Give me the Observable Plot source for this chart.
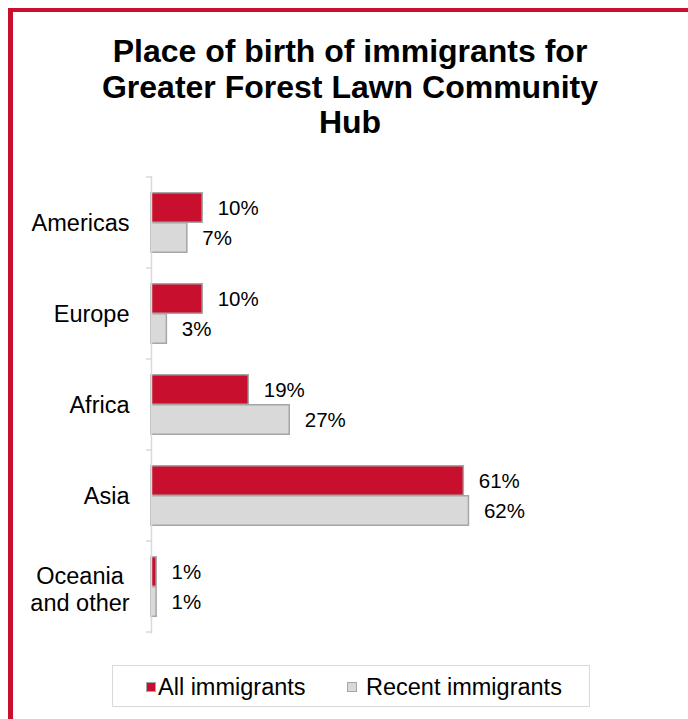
<!DOCTYPE html>
<html><head><meta charset="utf-8">
<script src="https://cdn.jsdelivr.net/npm/d3@7"></script>
<script src="https://cdn.jsdelivr.net/npm/@observablehq/plot@0.6"></script>
<style>
body{margin:0;background:#fff;font-family:"Liberation Sans",Arial,sans-serif;width:688px;height:719px;overflow:hidden;position:relative;}
#frame{position:absolute;left:8px;top:8px;width:720px;height:730px;border-left:5px solid #c8102e;border-top:4px solid #c8102e;box-sizing:border-box;}
#title{position:absolute;left:0;top:34px;width:700px;text-align:center;font-weight:bold;font-size:32px;line-height:35.5px;color:#000;}
#chart{position:absolute;left:0;top:170px;}
#legend{position:absolute;left:112px;top:665px;width:476px;height:40px;border:1px solid #d9d9d9;}
.sw{position:absolute;width:8px;height:8px;border:1px solid #a6a6a6;top:16px;}
.lt{position:absolute;top:8px;font-size:23.5px;line-height:26px;color:#000;white-space:nowrap;}
</style></head>
<body>
<div id="frame"></div>
<div id="title">Place of birth of immigrants for<br>Greater Forest Lawn Community<br>Hub</div>
<div id="chart"></div>
<div id="legend"></div>
<script>
const categories = ["Americas", "Europe", "Africa", "Asia", "Oceania\nand other"];
const seriesNames = ["All immigrants", "Recent immigrants"];
const allImmigrants = [10, 10, 19, 61, 1];
const recentImmigrants = [7, 3, 27, 62, 1];
const seriesColors = ["#c8102e", "#d9d9d9"];

const rows = [];
categories.forEach((c, i) => {
  rows.push({cat: c, series: seriesNames[0], value: allImmigrants[i]});
  rows.push({cat: c, series: seriesNames[1], value: recentImmigrants[i]});
});

const H = 470, MT = 6, MB = 6.5;
const step = (H - MT - MB) / categories.length;
const barH = 30;
const pad = (step - 2 * barH) / 2;

const chart = Plot.plot({
  width: 688, height: H,
  marginLeft: 151, marginRight: 25, marginTop: MT, marginBottom: MB,
  style: {fontFamily: "'Liberation Sans', Arial, sans-serif", background: "transparent", overflow: "visible"},
  x: {domain: [0, 100], axis: null},
  y: {domain: categories, padding: 0, axis: null, label: null},
  color: {domain: seriesNames, range: seriesColors},
  marks: [
    Plot.barX(rows.filter(d => d.series === seriesNames[0]), {
      x: "value", y: "cat", fill: "series", stroke: "#a6a6a6", strokeWidth: 1.5,
      insetTop: pad, insetBottom: step - pad - barH
    }),
    Plot.barX(rows.filter(d => d.series === seriesNames[1]), {
      x: "value", y: "cat", fill: "series", stroke: "#a6a6a6", strokeWidth: 1.5,
      insetTop: pad + barH, insetBottom: pad
    }),
    Plot.text(rows.filter(d => d.series === seriesNames[0]), {
      x: "value", y: "cat", text: d => d.value + "%", textAnchor: "start",
      dx: 15, dy: pad + barH / 2 - step / 2, fontSize: 20.5, fill: "#000"
    }),
    Plot.text(rows.filter(d => d.series === seriesNames[1]), {
      x: "value", y: "cat", text: d => d.value + "%", textAnchor: "start",
      dx: 15, dy: pad + barH + barH / 2 - step / 2, fontSize: 20.5, fill: "#000"
    }),
    Plot.ruleX([0], {stroke: "#d9d9d9", strokeWidth: 1.5}),
    Plot.axisY({ticks: categories.slice(0, 4), tickSize: 0, tickPadding: 22, fontSize: 23.5, fill: "#000", label: null}),
    Plot.axisY({ticks: categories.slice(4), tickSize: 0, tickPadding: 71.5, textAnchor: "middle", dy: 2, fontSize: 23.5, lineHeight: 1.12, fill: "#000", label: null})
  ]
});
document.getElementById("chart").appendChild(chart);

// category boundary ticks, placed from the plot's own scales
const ys = chart.scale("y");
const xs = chart.scale("x");
const x0 = xs.apply(0);
const svg = d3.select(chart);
const bounds = categories.map(c => ys.apply(c)).concat([ys.apply(categories[categories.length - 1]) + ys.bandwidth]);
svg.append("g").selectAll("line").data(bounds).join("line")
  .attr("x1", x0 - 5).attr("x2", x0).attr("y1", d => d).attr("y2", d => d)
  .attr("stroke", "#d9d9d9").attr("stroke-width", 1.5);

// legend
const lg = document.getElementById("legend");
const swX = [33, 234];
const txX = [45, 253];
seriesNames.forEach((s, i) => {
  const sw = document.createElement("div");
  sw.className = "sw"; sw.style.left = swX[i] + "px"; sw.style.background = seriesColors[i];
  lg.appendChild(sw);
  const t = document.createElement("div");
  t.className = "lt"; t.style.left = txX[i] + "px"; t.textContent = s;
  lg.appendChild(t);
});
</script>
</body></html>
